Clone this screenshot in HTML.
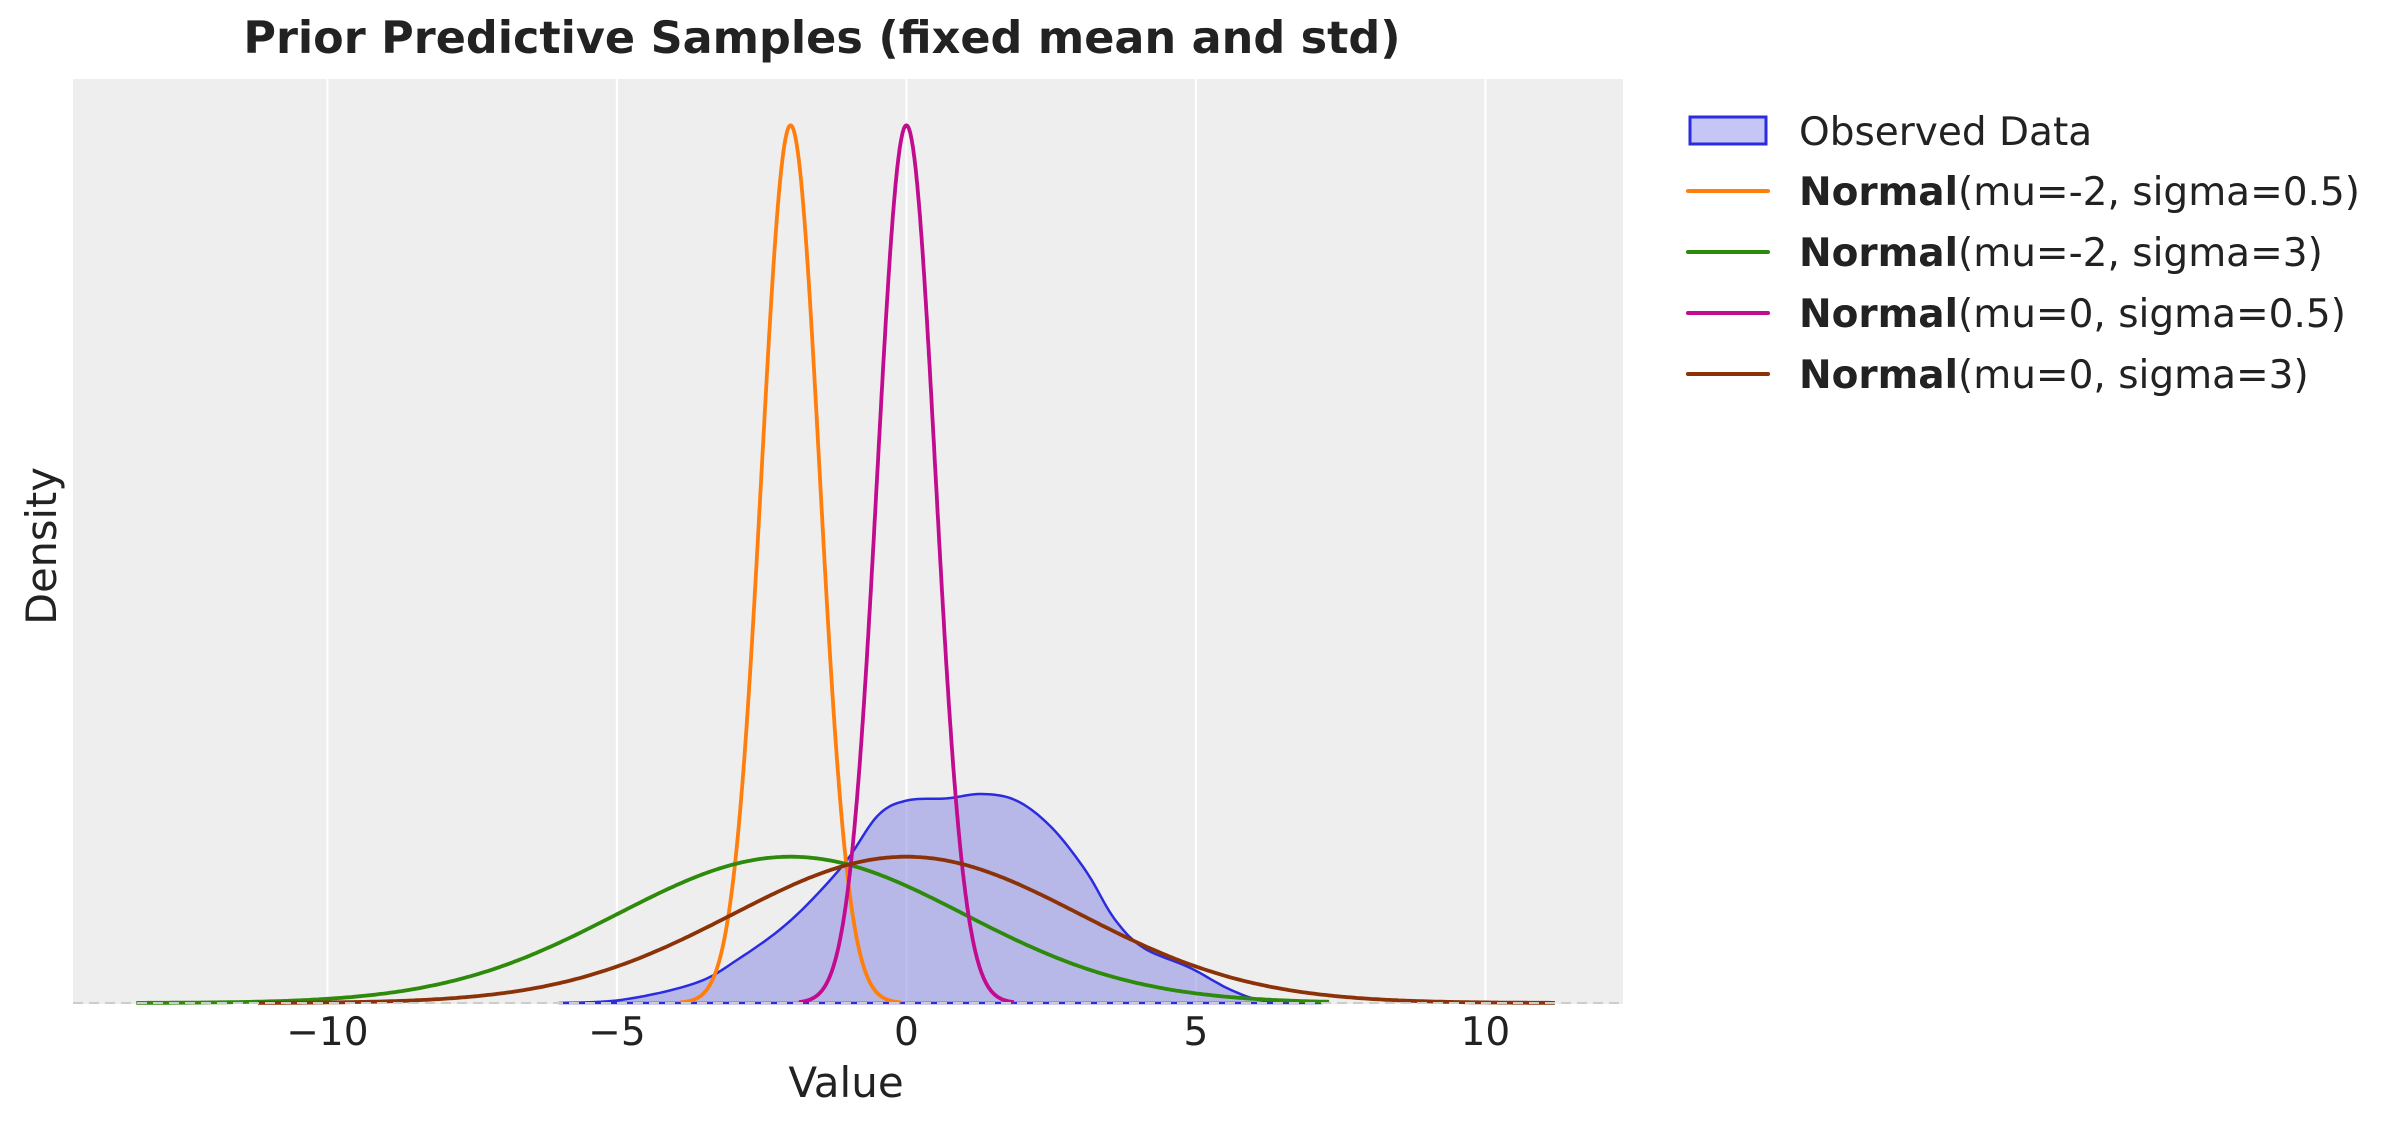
<!DOCTYPE html>
<html><head><meta charset="utf-8"><style>
html,body{margin:0;padding:0;background:#fff;}
svg{display:block;font-family:"DejaVu Sans","Liberation Sans",sans-serif;}
</style></head><body>
<svg id="s" width="2391" height="1124" viewBox="0 0 2391 1124" xmlns="http://www.w3.org/2000/svg">
<rect x="73" y="79" width="1550" height="925" fill="#eeeeee"/>
<g id="grid" stroke="#ffffff" stroke-width="2"></g>
<g id="curves"></g>
<line x1="73" y1="1003" x2="1623" y2="1003" stroke="#cccccc" stroke-width="2" stroke-dasharray="10,6"/>
<text x="822" y="53" font-size="44.5" font-weight="bold" text-anchor="middle" fill="#222">Prior Predictive Samples (fixed mean and std)</text>
<g id="ticks" font-size="39" fill="#222" text-anchor="middle"></g>
<text x="846" y="1097" font-size="42" text-anchor="middle" fill="#222">Value</text>
<text transform="translate(56,546) rotate(-90)" font-size="41.5" text-anchor="middle" fill="#222">Density</text>
<g font-size="39" fill="#222">
<rect x="1690" y="117" width="76" height="27" fill="#c6c6f6" stroke="#2b2be0" stroke-width="3"/>
<text x="1799" y="145">Observed Data</text>
<line x1="1688" y1="191" x2="1768" y2="191" stroke="#ff7f0e" stroke-width="4" stroke-linecap="round"/>
<text x="1799" y="205"><tspan font-weight="bold">Normal</tspan>(mu=-2, sigma=0.5)</text>
<line x1="1688" y1="252" x2="1768" y2="252" stroke="#2e8a0a" stroke-width="4" stroke-linecap="round"/>
<text x="1799" y="266"><tspan font-weight="bold">Normal</tspan>(mu=-2, sigma=3)</text>
<line x1="1688" y1="313" x2="1768" y2="313" stroke="#c20c8f" stroke-width="4" stroke-linecap="round"/>
<text x="1799" y="327"><tspan font-weight="bold">Normal</tspan>(mu=0, sigma=0.5)</text>
<line x1="1688" y1="374" x2="1768" y2="374" stroke="#8b3208" stroke-width="4" stroke-linecap="round"/>
<text x="1799" y="388"><tspan font-weight="bold">Normal</tspan>(mu=0, sigma=3)</text>
</g>
</svg>
<script>
var NS="http://www.w3.org/2000/svg";
var X0=906.4,U=57.9,B=1003,DS=1100;
function X(v){return X0+v*U;}function Y(d){return B-d*DS;}
var g=document.getElementById('grid'),t=document.getElementById('ticks');
[-10,-5,0,5,10].forEach(function(v){
 var l=document.createElementNS(NS,'line');l.setAttribute('x1',X(v));l.setAttribute('x2',X(v));l.setAttribute('y1',79);l.setAttribute('y2',1004);g.appendChild(l);
 var tx=document.createElementNS(NS,'text');tx.setAttribute('x',X(v));tx.setAttribute('y',1045);tx.textContent=(v<0?'\u2212'+(-v):''+v);t.appendChild(tx);
});
var c=document.getElementById('curves');
function path(d,stroke,fill,w){var p=document.createElementNS(NS,'path');p.setAttribute('d',d);p.setAttribute('stroke',stroke);p.setAttribute('fill',fill);p.setAttribute('stroke-width',w);p.setAttribute('stroke-linejoin','round');c.appendChild(p);}
var pts=[[-6,0],[-4.9,0.003],[-3.65,0.018],[-2.9,0.04],[-2.0,0.075],[-1.1,0.125],[-0.5,0.17],[0,0.184],[0.7,0.186],[1.3,0.19],[1.9,0.184],[2.5,0.16],[3.1,0.12],[3.6,0.076],[4.1,0.05],[4.9,0.032],[5.6,0.012],[6.2,0.002],[7.18,0]];
var d='M'+X(pts[0][0])+','+Y(0);
for(var i=0;i<pts.length-1;i++){var p0=pts[Math.max(0,i-1)],p1=pts[i],p2=pts[i+1],p3=pts[Math.min(pts.length-1,i+2)];
 for(var k=1;k<=10;k++){var s=k/10,s2=s*s,s3=s2*s;
  var x=0.5*((2*p1[0])+(-p0[0]+p2[0])*s+(2*p0[0]-5*p1[0]+4*p2[0]-p3[0])*s2+(-p0[0]+3*p1[0]-3*p2[0]+p3[0])*s3);
  var y=0.5*((2*p1[1])+(-p0[1]+p2[1])*s+(2*p0[1]-5*p1[1]+4*p2[1]-p3[1])*s2+(-p0[1]+3*p1[1]-3*p2[1]+p3[1])*s3);
  d+=' L'+X(x).toFixed(1)+','+Y(Math.max(0,y)).toFixed(1);}}
d+=' Z';
path(d,'#2b2be0','rgba(130,130,225,0.5)',2.5);
function normal(mu,sg,a,b,col){var s='';for(var i=0;i<=400;i++){var v=a+(b-a)*i/400;var dd=Math.exp(-0.5*Math.pow((v-mu)/sg,2))/(sg*Math.sqrt(2*Math.PI));s+=(i?' L':'M')+X(v).toFixed(1)+','+Y(dd).toFixed(1);}path(s,col,'none',3.8);}
normal(-2,0.5,-3.9,-0.1,'#ff7f0e');
normal(-2,3,-13.3,7.3,'#2e8a0a');
normal(0,0.5,-1.86,1.86,'#c20c8f');
normal(0,3,-11.2,11.2,'#8b3208');
</script>
</body></html>
